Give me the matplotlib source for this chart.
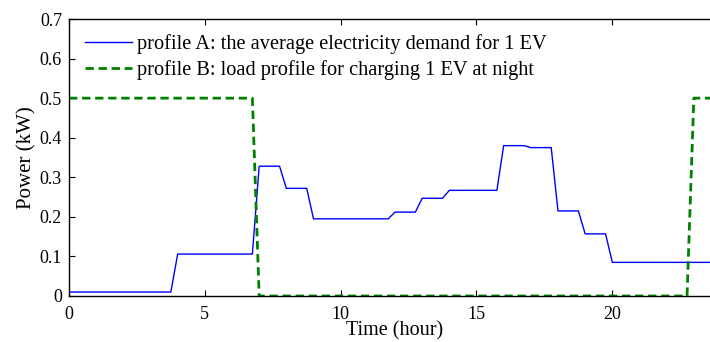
import matplotlib
matplotlib.use('Agg')
import matplotlib.pyplot as plt

plt.rcParams['font.family'] = ['Liberation Serif', 'DejaVu Serif']

# profile A: average electricity demand for 1 EV (kW), 15-min breakpoints
t_a = [0, 3.75, 4.0, 6.75, 7.0, 7.75, 8.0, 8.75, 9.0, 11.75, 12.0, 12.75, 13.0,
       13.75, 14.0, 15.75, 16.0, 16.75, 17.0, 17.75, 18.0, 18.75, 19.0, 19.75,
       20.0, 24.0]
p_a = [0.01, 0.01, 0.106, 0.106, 0.328, 0.328, 0.272, 0.272, 0.195, 0.195,
       0.212, 0.212, 0.247, 0.247, 0.267, 0.267, 0.38, 0.38, 0.375, 0.375,
       0.215, 0.215, 0.157, 0.157, 0.085, 0.085]

# profile B: night charging of 1 EV (kW)
t_b = [0, 6.75, 7.0, 22.75, 23.0, 24.0]
p_b = [0.5, 0.5, 0.0, 0.0, 0.5, 0.5]

fig = plt.figure(figsize=(7.1, 3.42), dpi=100)
ax = fig.add_axes([69/710, 46/342, (721-69)/710, 277/342])

ax.plot(t_a, p_a, color='#0000ff', lw=1.0,
        label='profile A: the average electricity demand for 1 EV')
ax.plot(t_b, p_b, color='#008000', lw=2.0, ls=(0, (3, 1.7)),
        label='profile B: load profile for charging 1 EV at night')

ax.set_xlim(0, 24)
ax.set_ylim(0, 0.7)
ax.set_xticks([0, 5, 10, 15, 20])
ax.set_yticks([0, 0.1, 0.2, 0.3, 0.4, 0.5, 0.6, 0.7])
ax.set_yticklabels(['0', '0.1', '0.2', '0.3', '0.4', '0.5', '0.6', '0.7'])
ax.tick_params(direction='in', top=True, right=True, length=4, labelsize=13)
ax.tick_params(axis='x', pad=7)
ax.tick_params(axis='y', pad=5)
for s in ax.spines.values():
    s.set_linewidth(1.0)

ax.set_xlabel('Time (hour)', fontsize=14.5, labelpad=-1)
ax.set_ylabel('Power (kW)', fontsize=15, labelpad=2)

ax.legend(loc='upper left', frameon=False, fontsize=14.7, handlelength=2.3,
          handletextpad=0.25, labelspacing=0.3, borderaxespad=0.0,
          bbox_to_anchor=(0.012, 0.975))

fig.savefig('out.png', dpi=100)
